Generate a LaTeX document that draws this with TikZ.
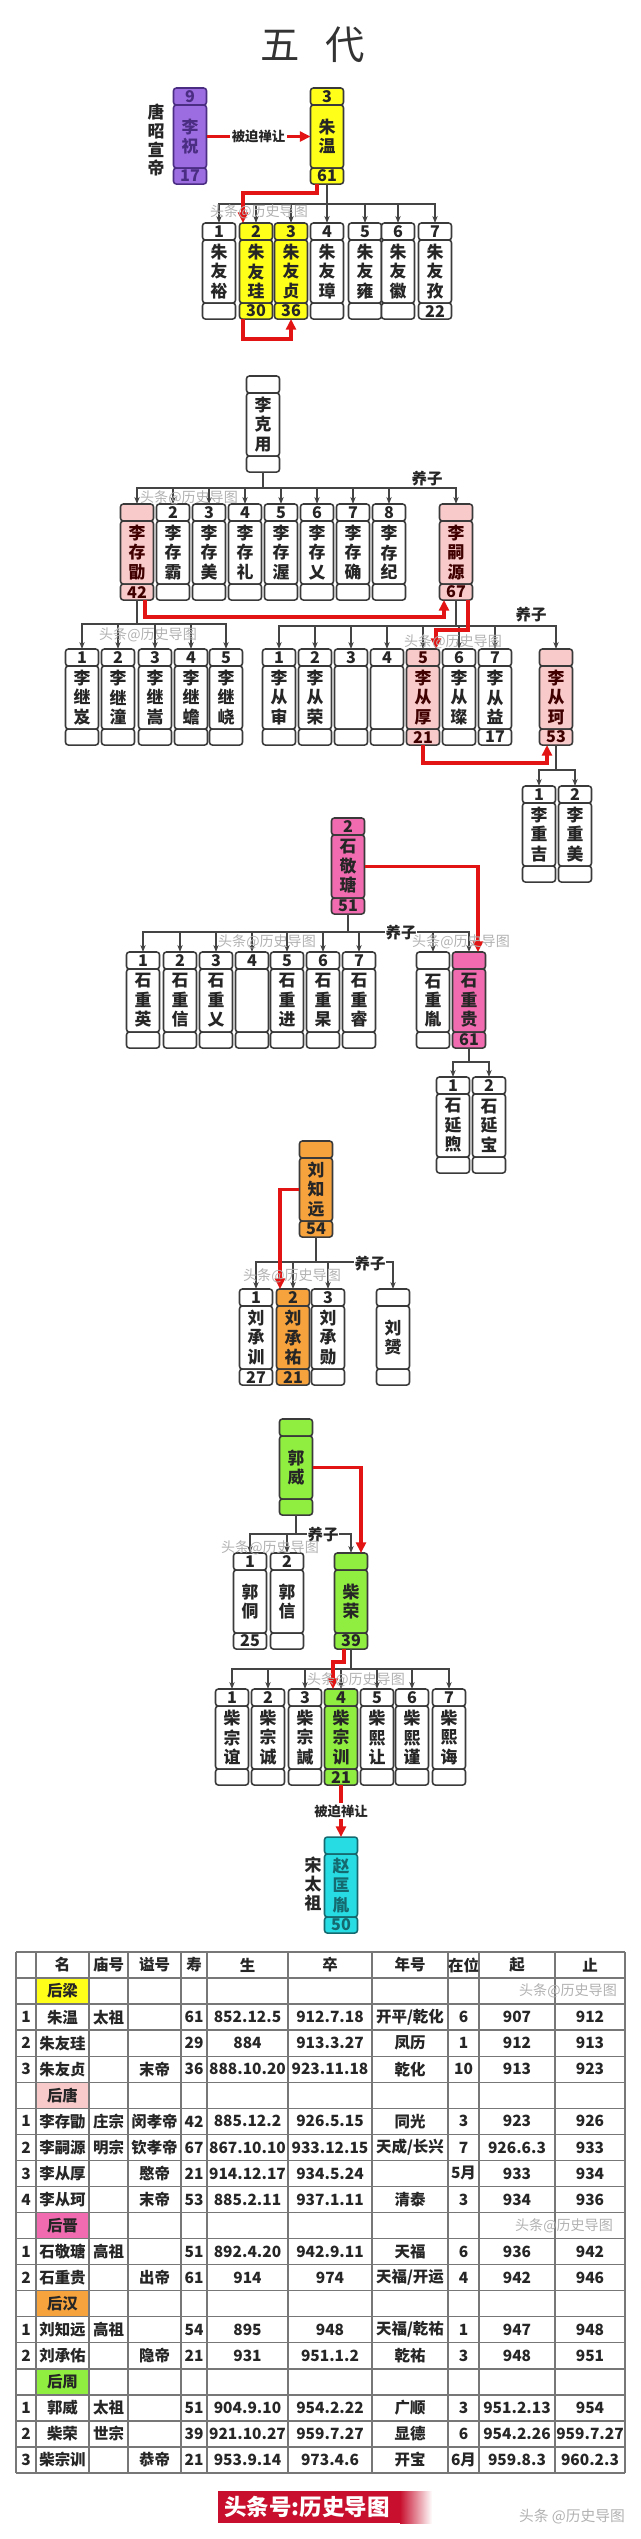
\documentclass[tikz,border=0pt]{standalone}
\usepackage{fontspec}
\setmainfont{Noto Sans CJK SC}
\usepackage{tikz}
\usetikzlibrary{arrows.meta,positioning,calc}
\definecolor{boxline}{HTML}{3A3A3A}
\definecolor{linegray}{HTML}{444444}
\definecolor{succred}{HTML}{E31414}
\definecolor{zpurple}{HTML}{9C6DE0}
\definecolor{zpurpled}{HTML}{4B2E83}
\definecolor{zyellow}{HTML}{FFFF1A}
\definecolor{zpink}{HTML}{F8CACA}
\definecolor{zrose}{HTML}{F06BAF}
\definecolor{zorange}{HTML}{F7A33D}
\definecolor{zgreen}{HTML}{90EE40}
\definecolor{zcyan}{HTML}{28DCE4}
\definecolor{zcyand}{HTML}{156A70}
\definecolor{stampred}{HTML}{C8102E}
\definecolor{tgray}{HTML}{777777}

% one person: top cell, name cell, bottom cell
\newcommand{\renwu}[7]{%
  \node[cellt,#4] (#1-t) at (#2,#3) {#5};
  \node[cellm,#4,below=0pt of #1-t] (#1) {#6};
  \node[cellb,#4,below=0pt of #1] (#1-b) {#7};}

\begin{document}
\begin{tikzpicture}[x=0.025cm,y=-0.025cm,
cellt/.style={draw=boxline,line width=1.1pt,rounded corners=2pt,inner sep=0pt,outer sep=0pt,
  minimum width=0.825cm,minimum height=0.425cm,anchor=north,text=black!85,
  font=\fontsize{11.5}{12}\selectfont\bfseries},
cellm/.style={cellt,minimum height=1.575cm,align=center,font=\fontsize{12}{13.8}\selectfont\bfseries},
cellb/.style={cellt,minimum height=0.4cm},
bai/.style={fill=white},
huang/.style={fill=zyellow},
zi/.style={fill=zpurple,draw=zpurpled,text=zpurpled},
fen/.style={fill=zpink,text=black!75!red},
mei/.style={fill=zrose},
cheng/.style={fill=zorange},
lv/.style={fill=zgreen},
qing/.style={fill=zcyan,draw=zcyand,text=zcyand},
gline/.style={draw=linegray,line width=0.8pt,-{Stealth[length=5pt,width=3.8pt]}},
rline/.style={draw=succred,line width=2.6pt,-{Triangle[length=7.5pt,width=7pt]}},
lab/.style={fill=white,inner sep=1pt,text=black!85,font=\fontsize{9.5}{11}\selectfont\bfseries},
yz/.style={fill=white,inner sep=0.5pt,text=black!85,font=\fontsize{11}{12}\selectfont\bfseries},
biao/.style={align=center,inner sep=0pt,text=black!85,font=\fontsize{12}{13.5}\selectfont\bfseries},
shui/.style={text=gray!60,inner sep=0pt,font=\fontsize{10}{12}\selectfont},
tcell/.style={inner sep=0pt,text=black!85,font=\fontsize{11}{13}\selectfont\bfseries},
tline/.style={draw=tgray,line width=1pt}
]
\useasboundingbox (0,0) rectangle (640,2539);
\fill[white] (0,0) rectangle (640,2539);

\node[font=\fontsize{28}{30}\selectfont,text=black!80] (title) at (313,45) {五\hspace{18pt}代};

% Later Liang
\renwu{lz}{190}{88}{zi}{9}{李\\祝}{17}
\renwu{zw}{327}{88}{huang}{3}{朱\\温}{61}
\renwu{zyy}{219}{223}{bai}{1}{朱\\友\\裕}{}
\renwu{zyg}{256}{223}{huang}{2}{朱\\友\\珪}{30}
\renwu{zyz}{291}{223}{huang}{3}{朱\\友\\贞}{36}
\renwu{zyzh}{327}{223}{bai}{4}{朱\\友\\璋}{}
\renwu{zyyo}{365}{223}{bai}{5}{朱\\友\\雍}{}
\renwu{zyh}{398}{223}{bai}{6}{朱\\友\\徽}{}
\renwu{zyzi}{435}{223}{bai}{7}{朱\\友\\孜}{22}
\node[biao] (tzx) at (156,140) {唐\\昭\\宣\\帝};

% Later Tang
\renwu{lky}{263}{376}{bai}{}{李\\克\\用}{}
\renwu{lcx}{137}{504}{fen}{}{李\\存\\勖}{42}
\renwu{lcb}{173}{504}{bai}{2}{李\\存\\霸}{}
\renwu{lcm}{209}{504}{bai}{3}{李\\存\\美}{}
\renwu{lcl}{245}{504}{bai}{4}{李\\存\\礼}{}
\renwu{lcw}{281}{504}{bai}{5}{李\\存\\渥}{}
\renwu{lcyi}{317}{504}{bai}{6}{李\\存\\乂}{}
\renwu{lcq}{353}{504}{bai}{7}{李\\存\\确}{}
\renwu{lcj}{389}{504}{bai}{8}{李\\存\\纪}{}
\renwu{lsy}{456}{504}{fen}{}{李\\嗣\\源}{67}
\renwu{ljj}{82}{649}{bai}{1}{李\\继\\岌}{}
\renwu{ljt}{118}{649}{bai}{2}{李\\继\\潼}{}
\renwu{ljs}{155}{649}{bai}{3}{李\\继\\嵩}{}
\renwu{ljc}{191}{649}{bai}{4}{李\\继\\蟾}{}
\renwu{ljy}{226}{649}{bai}{5}{李\\继\\峣}{}
\renwu{lcs}{279}{649}{bai}{1}{李\\从\\审}{}
\renwu{lcr}{315}{649}{bai}{2}{李\\从\\荣}{}
\renwu{lcc}{351}{649}{bai}{3}{}{}
\renwu{lcd}{387}{649}{bai}{4}{}{}
\renwu{lchd}{423}{649}{fen}{5}{李\\从\\厚}{21}
\renwu{lccn}{459}{649}{bai}{6}{李\\从\\璨}{}
\renwu{lcyy}{495}{649}{bai}{7}{李\\从\\益}{17}
\renwu{lck}{556}{649}{fen}{}{李\\从\\珂}{53}
\renwu{lzj}{539}{786}{bai}{1}{李\\重\\吉}{}
\renwu{lzm}{575}{786}{bai}{2}{李\\重\\美}{}

% Later Jin
\renwu{sjt}{348}{818}{mei}{2}{石\\敬\\瑭}{51}
\renwu{szy}{143}{952}{bai}{1}{石\\重\\英}{}
\renwu{szx}{180}{952}{bai}{2}{石\\重\\信}{}
\renwu{szyi}{216}{952}{bai}{3}{石\\重\\乂}{}
\renwu{szd}{252}{952}{bai}{4}{}{}
\renwu{szj}{287}{952}{bai}{5}{石\\重\\进}{}
\renwu{szgao}{323}{952}{bai}{6}{石\\重\\杲}{}
\renwu{szr}{359}{952}{bai}{7}{石\\重\\睿}{}
\renwu{szyin}{433}{952}{bai}{}{石\\重\\胤}{}
\renwu{szg}{469}{952}{mei}{}{石\\重\\贵}{61}
\renwu{syx}{453}{1077}{bai}{1}{石\\延\\煦}{}
\renwu{syb}{489}{1077}{bai}{2}{石\\延\\宝}{}

% Later Han
\renwu{lzy}{316}{1141}{cheng}{}{刘\\知\\远}{54}
\renwu{lcxn}{256}{1289}{bai}{1}{刘\\承\\训}{27}
\renwu{lcy}{293}{1289}{cheng}{2}{刘\\承\\祐}{21}
\renwu{lcxu}{328}{1289}{bai}{3}{刘\\承\\勋}{}
\renwu{lyun}{393}{1289}{bai}{}{刘\\赟}{}

% Later Zhou
\renwu{gw}{296}{1419}{lv}{}{郭\\威}{}
\renwu{gt}{250}{1553}{bai}{1}{郭\\侗}{25}
\renwu{gx}{287}{1553}{bai}{2}{郭\\信}{}
\renwu{cr}{351}{1553}{lv}{}{柴\\荣}{39}
\renwu{czy}{232}{1689}{bai}{1}{柴\\宗\\谊}{}
\renwu{czc}{268}{1689}{bai}{2}{柴\\宗\\诚}{}
\renwu{czxn}{305}{1689}{bai}{3}{柴\\宗\\諴}{}
\renwu{czx}{341}{1689}{lv}{4}{柴\\宗\\训}{21}
\renwu{cxr}{377}{1689}{bai}{5}{柴\\熙\\让}{}
\renwu{cxj}{412}{1689}{bai}{6}{柴\\熙\\谨}{}
\renwu{cxh}{449}{1689}{bai}{7}{柴\\熙\\诲}{}
\renwu{zky}{341}{1837}{qing}{}{赵\\匡\\胤}{50}
\node[biao] (stz) at (313,1884) {宋\\太\\祖};

% family lines
\foreach \kid in {zyy,zyg,zyz,zyzh,zyyo,zyh,zyzi}
  \draw[gline] (zw-b.south) -- ++(0,20) -| (\kid-t.north);
\foreach \kid in {lcx,lcb,lcm,lcl,lcw,lcyi,lcq,lcj,lsy}
  \draw[gline] (lky-b.south) -- ++(0,16) -| (\kid-t.north);
\foreach \kid in {ljj,ljt,ljs,ljc,ljy}
  \draw[gline] (lcx-b.south) -- ++(0,24) -| (\kid-t.north);
\foreach \kid in {lcs,lcr,lcc,lcd,lchd,lccn,lcyy,lck}
  \draw[gline] (lsy-b.south) -- ++(0,26) -| (\kid-t.north);
\foreach \kid in {lzj,lzm}
  \draw[gline] (lck-b.south) -- ++(0,25) -| (\kid-t.north);
\foreach \kid in {szy,szx,szyi,szd,szj,szgao,szr,szyin,szg}
  \draw[gline] (sjt-b.south) -- ++(0,18) -| (\kid-t.north);
\foreach \kid in {syx,syb}
  \draw[gline] (szg-b.south) -- ++(0,14) -| (\kid-t.north);
\foreach \kid in {lcxn,lcy,lcxu,lyun}
  \draw[gline] (lzy-b.south) -- ++(0,25) -| (\kid-t.north);
\foreach \kid in {gt,gx,cr}
  \draw[gline] (gw-b.south) -- ++(0,19) -| (\kid-t.north);
\foreach \kid in {czy,czc,czxn,czx,cxr,cxj,cxh}
  \draw[gline] (cr-b.south) -- ++(0,20) -| (\kid-t.north);

% succession
\draw[rline] (lz) -- node[lab] (bp1) {被迫禅让} (zw);
\draw[rline] ($(zw-b.south)+(-10,0)$) -- ++(0,9) -| ($(zyg-t.north)+(-13,0)$);
\draw[rline] ($(zyg-b.south)+(-13,0)$) -- ++(0,20) -| (zyz-b.south);
\draw[rline] ($(lcx-b.south)+(8,0)$) -- ++(0,17) -| ($(lsy-b.south)+(-12,0)$);
\draw[rline] ($(lsy-b.south)+(12,0)$) -- ++(0,30) -| ($(lchd-t.north)+(13,0)$);
\draw[rline] (lchd-b.south) -- ++(0,18) -| ($(lck-b.south)+(-9,0)$);
\draw[rline] (sjt.east) -| ($(szg-t.north)+(9,0)$);
\draw[rline] (lzy.west) -| ($(lcy-t.north)+(-13,0)$);
\draw[rline] (gw.east) -| ($(cr-t.north)+(10,0)$);
\draw[rline] ($(cr-b.south)+(-7,0)$) -- ++(0,13) -| ($(czx-t.north)+(-8,0)$);
\draw[rline] (czx-b) -- node[lab] (bp2) {被迫禅让} (zky-t);

\node[yz] (yz1) at (427,479) {养子};
\node[yz] (yz2) at (531,615) {养子};
\node[yz] (yz3) at (401,933) {养子};
\node[yz] (yz4) at (370,1264) {养子};
\node[yz] (yz5) at (323,1535) {养子};

% table
\foreach \r/\fc in {1/zyellow,5/zpink,10/zrose,13/zorange,16/zgreen}
  \fill[\fc] (36,{1952+26.05*\r}) rectangle (89,{1952+26.05*(\r+1)});
\foreach \r in {0,...,20}
  \draw[tline] (16,{1952+26.05*\r}) -- (625,{1952+26.05*\r});
\foreach \xv in {16,36,89,128,181,207,288,372,448,479,555,625}
  \draw[tline] (\xv,1952) -- (\xv,2473);
\foreach \hang [count=\r from 0] in {%
  {{},名,庙号,谥号,寿,生,卒,年号,在位,起,止},%
  {{},后梁},%
  {1,朱温,太祖,{},61,852.12.5,912.7.18,开平/乾化,6,907,912},%
  {2,朱友珪,{},{},29,884,913.3.27,凤历,1,912,913},%
  {3,朱友贞,{},末帝,36,888.10.20,923.11.18,乾化,10,913,923},%
  {{},后唐},%
  {1,李存勖,庄宗,闵孝帝,42,885.12.2,926.5.15,同光,3,923,926},%
  {2,李嗣源,明宗,钦孝帝,67,867.10.10,933.12.15,天成/长兴,7,926.6.3,933},%
  {3,李从厚,{},愍帝,21,914.12.17,934.5.24,{},5月,933,934},%
  {4,李从珂,{},末帝,53,885.2.11,937.1.11,清泰,3,934,936},%
  {{},后晋},%
  {1,石敬瑭,高祖,{},51,892.4.20,942.9.11,天福,6,936,942},%
  {2,石重贵,{},出帝,61,914,974,天福/开运,4,942,946},%
  {{},后汉},%
  {1,刘知远,高祖,{},54,895,948,天福/乾祐,1,947,948},%
  {2,刘承佑,{},隐帝,21,931,951.1.2,乾祐,3,948,951},%
  {{},后周},%
  {1,郭威,太祖,{},51,904.9.10,954.2.22,广顺,3,951.2.13,954},%
  {2,柴荣,世宗,{},39,921.10.27,959.7.27,显德,6,954.2.26,959.7.27},%
  {3,柴宗训,{},恭帝,21,953.9.14,973.4.6,开宝,6月,959.8.3,960.2.3}%
}{
  \foreach \ge [count=\col] in \hang {
    \pgfmathsetmacro\cx{{26,62.5,108.5,154.5,194,247.5,330,410,463.5,517,590}[\col-1]}
    \node[tcell] (t\r-\col) at (\cx,{1952+26.05*(\r+0.5)}) {\ge};
  }
}

% watermarks
\node[shui] (w1) at (259,212) {头条@历史导图};
\node[shui] (w2) at (189,498) {头条@历史导图};
\node[shui] (w3) at (148,635) {头条@历史导图};
\node[shui] (w4) at (453,642) {头条@历史导图};
\node[shui] (w5) at (267,942) {头条@历史导图};
\node[shui] (w6) at (461,942) {头条@历史导图};
\node[shui] (w7) at (292,1276) {头条@历史导图};
\node[shui] (w8) at (270,1548) {头条@历史导图};
\node[shui] (w9) at (356,1680) {头条@历史导图};
\node[shui] (w10) at (568,1991) {头条@历史导图};
\node[shui] (w11) at (564,2226) {头条@历史导图};
\node[shui,font=\fontsize{10.5}{12}\selectfont] (w12) at (572,2517) {头条 @历史导图};

% stamp
\fill[stampred] (218,2491) rectangle (400,2523);
\shade[left color=stampred,right color=white] (400,2491) rectangle (432,2523);
\node[text=white,font=\fontsize{16}{18}\selectfont\bfseries] (yin) at (307,2507) {头条号:历史导图};
\end{tikzpicture}
\end{document}
